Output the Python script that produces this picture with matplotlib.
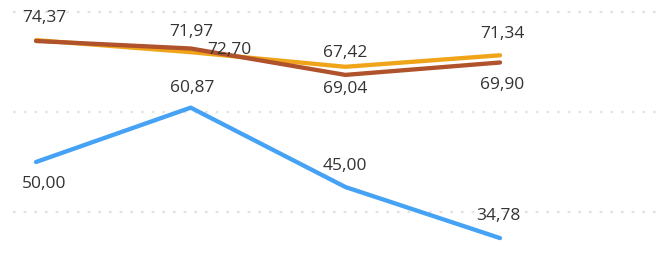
import matplotlib.pyplot as plt
import numpy as np

# values
x_pos = [0, 1, 2, 3]
orange_vals = [74.37, 71.97, 69.04, 71.34]
brown_vals = [74.2, 72.70, 67.42, 69.90]
blue_vals = [50.00, 60.87, 45.00, 34.78]
grid_vals = [40, 60, 80]

orange = '#F0A419'
brown = '#B0522B'
blue = '#45A2F4'


def fmt(v):
    return ('%.2f' % v).replace('.', ',')


fig = plt.figure(figsize=(6.57, 2.62), dpi=100)
ax = fig.add_axes([0, 0, 1, 1])
ax.set_xlim(-0.233, 4.015)
ax.set_ylim(30, 82.4)
ax.axis('off')

for g in grid_vals:
    ax.axhline(g, xmin=0.02, xmax=1, color='#E3E3E3', lw=1.6,
               dashes=(1.2, 3.6), zorder=0)

ax.plot(x_pos, blue_vals, color=blue, lw=3.1, solid_capstyle='round',
        solid_joinstyle='round', zorder=2)
ax.plot(x_pos, orange_vals, color=orange, lw=3.1, solid_capstyle='round',
        solid_joinstyle='round', zorder=3)
ax.plot(x_pos, brown_vals, color=brown, lw=3.1, solid_capstyle='round',
        solid_joinstyle='round', zorder=4)

txt = dict(fontsize=12.5, family=['Open Sans', 'DejaVu Sans'], color='#333333',
           ha='center', va='center', zorder=5)

# (series, index, dx px, dy px) - label placement as in the picture
labels = [
    (orange_vals, 0, 8, 22),
    (orange_vals, 1, 1, 20),
    (brown_vals, 1, 39, -1),
    (brown_vals, 2, 0, 22),
    (orange_vals, 2, 0, -22),
    (orange_vals, 3, 2, 21),
    (brown_vals, 3, 2, -22),
    (blue_vals, 0, 8, -22),
    (blue_vals, 1, 1, 20),
    (blue_vals, 2, 0, 21),
    (blue_vals, 3, -2, 22),
]
for vals, i, dx, dy in labels:
    ax.annotate(fmt(vals[i]), (x_pos[i], vals[i]), xytext=(dx * 0.72, dy * 0.72),
                textcoords='offset points', **txt)

fig.savefig('out.png', dpi=100)
